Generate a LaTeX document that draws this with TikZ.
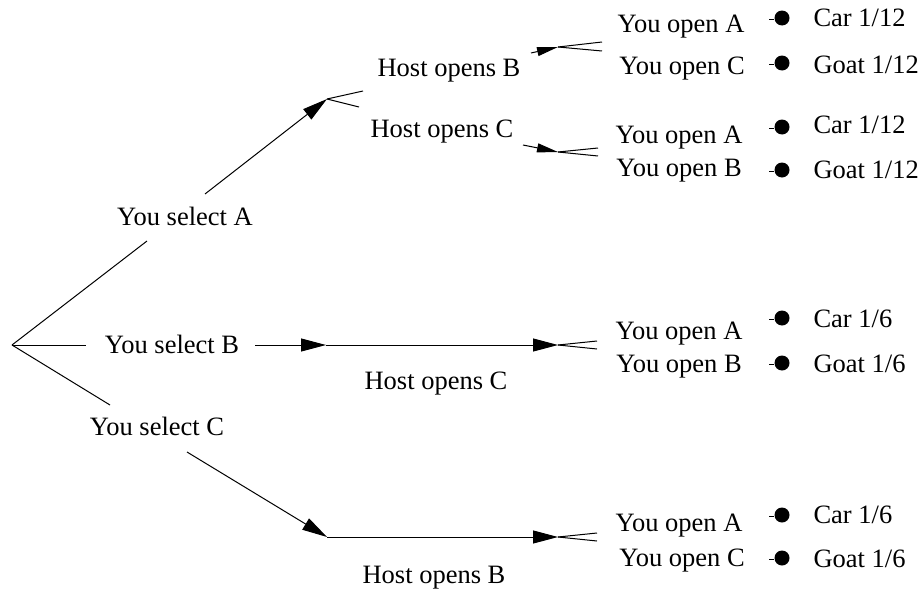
\documentclass[tikz,border=0pt]{standalone}
\usepackage{fontspec}
\setmainfont{Liberation Serif}
\usetikzlibrary{arrows.meta}
\begin{document}
\begin{tikzpicture}[x=1pt,y=-1pt,line width=1pt,
  lbl/.style={anchor=base,inner sep=0pt,font=\fontsize{26.5}{30}\selectfont},
  res/.style={anchor=base west,inner sep=0pt,font=\fontsize{26.5}{30}\selectfont},
  big/.style={-{Triangle[length=25pt,width=13pt]}},
  small/.style={-{Triangle[length=21pt,width=9pt]}},
  dotn/.style={circle,fill=black,draw=none,inner sep=0pt,minimum size=15pt}]
\useasboundingbox (0,0) rectangle (924,589);
% junctions
\coordinate (root) at (12,345);
\coordinate (hA) at (327,99);
\coordinate (hBC) at (326,345);
\coordinate (hCB) at (327,537);
\coordinate (jAB) at (558,47);
\coordinate (jAC) at (558,152);
\coordinate (jBC) at (558,345);
\coordinate (jCB) at (558,537);
% edge break points
\coordinate (a1) at (147,241); \coordinate (a2) at (205,194);
\coordinate (b1) at (86,345);  \coordinate (b2) at (255,345);
\coordinate (c1) at (110,405); \coordinate (c2) at (187,452);
\coordinate (ab) at (531,53);  \coordinate (ac) at (523,145);
\coordinate (fAB) at (363,91); \coordinate (fAC) at (359,107);
\coordinate (fAB1) at (602,42); \coordinate (fAB2) at (602,51);
\coordinate (fAC1) at (598,148); \coordinate (fAC2) at (598,156);
\coordinate (fBC1) at (597,341); \coordinate (fBC2) at (597,349);
\coordinate (fCB1) at (597,533); \coordinate (fCB2) at (597,541);
% labels
\node[lbl] (sA) at (185,225) {You select A};
\node[lbl] (sB) at (172,353) {You select B};
\node[lbl] (sC) at (157,435) {You select C};
\node[lbl] (hoB1) at (449,76) {Host opens B};
\node[lbl] (hoC1) at (442,137) {Host opens C};
\node[lbl] (hoC2) at (436,389) {Host opens C};
\node[lbl] (hoB2) at (434,583) {Host opens B};
\node[lbl] (o1) at (681,32) {You open A};
\node[lbl] (o2) at (682,74) {You open C};
\node[lbl] (o3) at (679,143) {You open A};
\node[lbl] (o4) at (679,176) {You open B};
\node[lbl] (o5) at (679,339) {You open A};
\node[lbl] (o6) at (679,372) {You open B};
\node[lbl] (o7) at (679,531) {You open A};
\node[lbl] (o8) at (682,566) {You open C};
\node[res] (r1) at (813,27) {Car 1/12};
\node[res] (r2) at (813,73) {Goat 1/12};
\node[res] (r3) at (813,133) {Car 1/12};
\node[res] (r4) at (813,178) {Goat 1/12};
\node[res] (r5) at (813,327) {Car 1/6};
\node[res] (r6) at (813,372) {Goat 1/6};
\node[res] (r7) at (813,523) {Car 1/6};
\node[res] (r8) at (813,567) {Goat 1/6};
% dots with tails
\foreach \i/\y in {1/18,2/63,3/127,4/170,5/318,6/363,7/515,8/558}{
  \node[dotn] (d\i) at (782,\y) {};
  \coordinate (t\i) at (769,\y+1);
  \draw (t\i) -- (d\i.west |- t\i);
}
% connectors
\draw (root) -- (a1);
\draw[big] (a2) -- (hA);
\draw (root) -- (b1);
\draw[big] (b2) -- (hBC);
\draw (root) -- (c1);
\draw[big] (c2) -- (hCB);
\draw (hA) -- (fAB);
\draw (hA) -- (fAC);
\draw[small] (ab) -- (jAB);
\draw[small] (ac) -- (jAC);
\draw[big] (hBC) -- (jBC);
\draw[big] (hCB) -- (jCB);
\draw (jAB) -- (fAB1); \draw (jAB) -- (fAB2);
\draw (jAC) -- (fAC1); \draw (jAC) -- (fAC2);
\draw (jBC) -- (fBC1); \draw (jBC) -- (fBC2);
\draw (jCB) -- (fCB1); \draw (jCB) -- (fCB2);
\end{tikzpicture}
\end{document}
